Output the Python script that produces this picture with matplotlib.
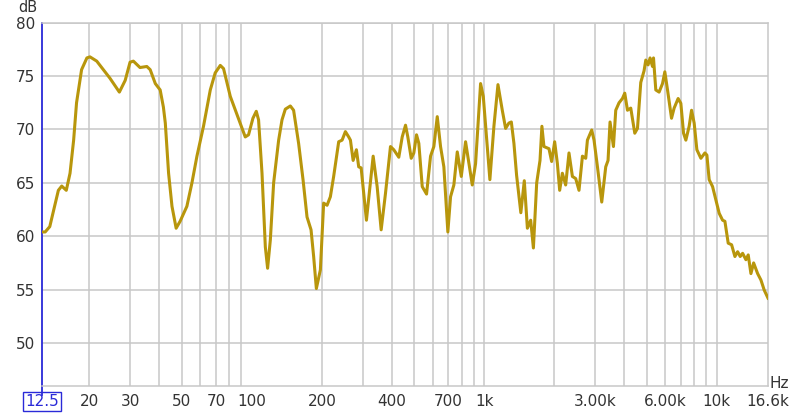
import matplotlib.pyplot as plt
from matplotlib.lines import Line2D

# Frequency response (Hz, dB)
freq = [12.5, 12.9, 13.5, 14.7, 15.2, 15.9, 16.5, 17.1, 17.6, 18.5,
        19.5, 20.1, 21.5, 24.5, 26.9, 28.5, 29.9, 30.9, 33.0, 35.3,
        36.5, 38.4, 40.3, 41.6, 42.4, 43.8, 45.3, 47.2, 49.1, 52.5,
        55.2, 58.0, 61.9, 66.2, 69.5, 73.1, 75.5, 80.7, 86.2, 93.6,
        96.7, 101, 104.4, 106.8, 110.5, 114.2, 116.8, 120, 124, 130.3,
        134.7, 139.2, 146.3, 151.1, 158.8, 165.9, 172.6, 179.6, 184.3, 189.3,
        197, 203.5, 210.5, 217.5, 224.7, 236.2, 244.3, 252.4, 260.8, 265.3,
        272.5, 281.5, 288, 295, 310.9, 332.3, 345.7, 359.7, 375.4, 394.5,
        407.6, 428.4, 443.1, 457.9, 468.4, 484.5, 497.1, 510.6, 522.4, 540.3,
        563.9, 586.7, 606.2, 627, 647.8, 669.4, 696.4, 715.3, 739.1, 764.4,
        795.4, 830, 887, 916.5, 963.1, 989.2, 1056, 1099, 1144, 1194,
        1234, 1275, 1306, 1340, 1376, 1435, 1485, 1531, 1582, 1625,
        1679, 1735, 1768, 1804, 1896, 1947, 2006, 2061, 2108, 2165,
        2237, 2312, 2391, 2471, 2553, 2641, 2729, 2775, 2896, 2963,
        3065, 3198, 3327, 3404, 3472, 3591, 3674, 3796, 3926, 4017,
        4126, 4263, 4436, 4556, 4707, 4864, 4947, 5061, 5162, 5287,
        5340, 5463, 5645, 5839, 5974, 6136, 6384, 6551, 6816, 7001,
        7191, 7357, 7602, 7785, 7989, 8206, 8538, 8884, 9062, 9268,
        9586, 9906, 10236, 10587, 10831, 11192, 11576, 11961, 12286, 12606,
        12910, 13339, 13647, 14017, 14397, 14980, 15478, 15993, 16600]
db = [60.4, 60.4, 60.9, 64.3, 64.7, 64.3, 65.9, 69.0, 72.5, 75.6,
      76.7, 76.8, 76.4, 74.8, 73.5, 74.6, 76.3, 76.4, 75.8, 75.9,
      75.6, 74.3, 73.7, 72.1, 70.6, 65.9, 62.8, 60.75, 61.4, 62.8,
      65.0, 67.5, 70.3, 73.7, 75.3, 76.0, 75.7, 73.1, 71.4, 69.3,
      69.5, 71.05, 71.7, 70.9, 65.9, 59.0, 57.0, 59.65, 65.0, 69.0,
      70.9, 71.9, 72.2, 71.8, 68.7, 65.3, 61.8, 60.6, 58.1, 55.1,
      56.85, 63.1, 62.9, 63.7, 65.6, 68.85, 69.0, 69.8, 69.3, 69.0,
      67.1, 68.1, 66.5, 66.4, 61.5, 67.5, 64.65, 60.6, 64.0, 68.4,
      68.1, 67.4, 69.3, 70.4, 69.3, 67.3, 67.8, 69.5, 68.7, 64.65,
      63.95, 67.5, 68.4, 71.2, 68.4, 66.5, 60.4, 63.7, 64.8, 67.9,
      65.6, 68.85, 64.8, 66.8, 74.3, 73.1, 65.3, 70.3, 74.2, 71.8,
      70.1, 70.6, 70.7, 68.7, 65.7, 62.2, 65.2, 60.75, 61.5, 58.9,
      65.0, 67.1, 70.3, 68.4, 68.2, 67.0, 68.85, 66.8, 64.3, 65.9,
      64.8, 67.8, 65.6, 65.4, 64.3, 67.5, 67.3, 69.0, 69.95, 69.0,
      66.5, 63.2, 66.5, 67.1, 70.7, 68.4, 71.8, 72.5, 72.9, 73.4,
      71.8, 72.0, 69.65, 70.1, 74.4, 75.5, 76.5, 76.05, 76.7, 75.9,
      76.7, 73.7, 73.5, 74.3, 75.4, 73.7, 71.05, 72.0, 72.9, 72.45,
      69.65, 69.0, 70.3, 71.8, 70.6, 68.1, 67.3, 67.8, 67.6, 65.3,
      64.65, 63.4, 62.15, 61.5, 61.4, 59.35, 59.2, 58.1, 58.55, 58.1,
      58.4, 57.8, 58.25, 56.5, 57.5, 56.5, 55.9, 54.95, 54.2]

xtick_vals = [12.5, 20, 30, 50, 70, 100, 200, 400, 700, 1000,
              3000, 6000, 10000, 16600]
xtick_labels = ['12.5', '20', '30', '50', '70', '100', '200', '400',
                '700', '1k', '3.00k', '6.00k', '10k', '16.6k']
ytick_vals = [50, 55, 60, 65, 70, 75, 80]

grid_color = '#c8c8c8'
blue = '#2a2ad8'
text_color = '#333333'

fig = plt.figure(figsize=(8, 4.15), dpi=100)
ax = fig.add_axes([0.0525, 0.0706, 0.9075, 0.8747])

# vertical grid at 1-2-3...9 decades
grid_x = [m * d for d in (10, 100, 1000) for m in range(2, 10)] + [1000, 10000]
for gx in grid_x:
    ax.axvline(gx, color=grid_color, lw=1.1, zorder=1)
for gy in ytick_vals:
    ax.axhline(gy, color=grid_color, lw=1.1, zorder=1)

ax.plot(freq, db, color='#b8960c', lw=2.2, solid_joinstyle='round', zorder=3)

ax.set_xscale('log')
ax.set_xlim(12.5, 16600)
ax.set_ylim(46, 80)
ax.minorticks_off()
ax.set_xticks(xtick_vals)
ax.set_xticklabels(xtick_labels)
ax.set_yticks(ytick_vals)
ax.tick_params(axis='both', length=0, labelsize=11, colors=text_color)
ax.tick_params(axis='x', pad=6)
ax.tick_params(axis='y', pad=5)

for s in ('top', 'right', 'bottom'):
    ax.spines[s].set_color(grid_color)
    ax.spines[s].set_linewidth(1.1)
ax.spines['left'].set_color(blue)
ax.spines['left'].set_linewidth(1.3)

# blue marker box around the start frequency
first = ax.get_xticklabels()[0]
first.set_color(blue)
first.set_bbox(dict(facecolor='white', edgecolor=blue, pad=1.5, lw=1.0))
ax.add_line(Line2D([0, 0], [0, -0.025], transform=ax.transAxes, color=blue,
                   lw=1.3, clip_on=False))

fig.text(0.047, 0.999, 'dB', ha='right', va='top', fontsize=10.5, color=text_color)
fig.text(0.962, 0.058, 'Hz', ha='left', va='bottom', fontsize=11, color=text_color)

fig.savefig('out.png', dpi=100)
